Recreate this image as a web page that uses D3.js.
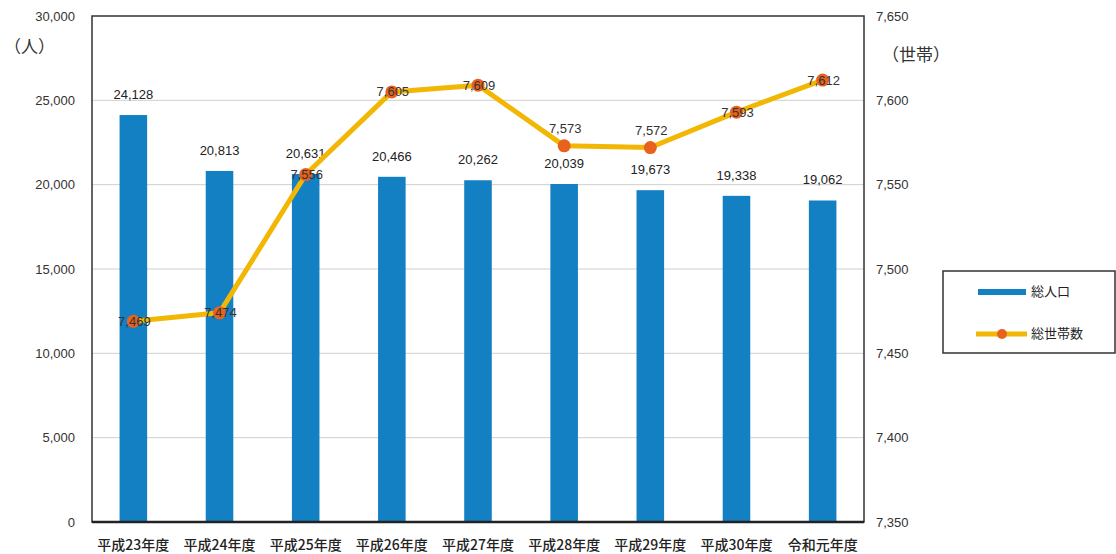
<!DOCTYPE html>
<html lang="ja">
<head>
<meta charset="utf-8">
<script src="https://cdn.jsdelivr.net/npm/d3@7/dist/d3.min.js"></script>
<style>
  html, body { margin: 0; padding: 0; background: #fff; }
  svg { display: block; font-family: "Liberation Sans", "Noto Sans CJK JP", sans-serif; }
</style>
</head>
<body>
<svg id="chart" width="1116" height="554"></svg>
<script>
// Fiscal years
const categories = ["平成23年度", "平成24年度", "平成25年度", "平成26年度", "平成27年度",
                    "平成28年度", "平成29年度", "平成30年度", "令和元年度"];
// Total population (persons)
const population = [24128, 20813, 20631, 20466, 20262, 20039, 19673, 19338, 19062];
// Total households
const households = [7469, 7474, 7556, 7605, 7609, 7573, 7572, 7593, 7612];
// Axis ticks
const leftTicks = [0, 5000, 10000, 15000, 20000, 25000, 30000];
const rightTicks = [7350, 7400, 7450, 7500, 7550, 7600, 7650];

// Household labels that sit above their marker instead of on it
const raisedLabels = new Set(["平成28年度", "平成29年度"]);

const svg = d3.select("#chart");
const plot = { left: 92, right: 864, top: 16, bottom: 522 };

const x = d3.scaleBand().domain(categories).range([plot.left, plot.right]).paddingInner(0.68).paddingOuter(0.32);
const yL = d3.scaleLinear().domain([0, 30000]).range([plot.bottom, plot.top]);
const yR = d3.scaleLinear().domain([7350, 7650]).range([plot.bottom, plot.top]);
const fmt = d3.format(",");

// Gridlines
svg.append("g").selectAll("line").data(leftTicks.filter(d => d > 0 && d < 30000)).join("line")
  .attr("x1", plot.left).attr("x2", plot.right)
  .attr("y1", d => yL(d)).attr("y2", d => yL(d))
  .attr("stroke", "#cfcfcf").attr("stroke-width", 1);

// Left axis
const leftAxis = svg.append("g").attr("transform", `translate(${plot.left},0)`)
  .call(d3.axisLeft(yL).tickValues(leftTicks).tickFormat(fmt).tickSize(0).tickPadding(17));
leftAxis.select(".domain").remove();
leftAxis.selectAll("text").attr("font-size", 13).attr("fill", "#333");

// Right axis
const rightAxis = svg.append("g").attr("transform", `translate(${plot.right},0)`)
  .call(d3.axisRight(yR).tickValues(rightTicks).tickFormat(fmt).tickSize(0).tickPadding(12));
rightAxis.select(".domain").remove();
rightAxis.selectAll("text").attr("font-size", 13).attr("fill", "#333");

// Bars
svg.append("g").selectAll("rect").data(population).join("rect")
  .attr("x", (d, i) => x(categories[i]))
  .attr("width", x.bandwidth())
  .attr("y", d => yL(d))
  .attr("height", d => yL(0) - yL(d))
  .attr("fill", "#1480c4");

// Bar labels
svg.append("g").selectAll("text").data(population).join("text")
  .attr("x", (d, i) => x(categories[i]) + x.bandwidth() / 2)
  .attr("y", d => yL(d) - 16)
  .attr("text-anchor", "middle").attr("font-size", 13).attr("fill", "#222")
  .text(d => fmt(d));

// Plot frame
svg.append("rect")
  .attr("x", plot.left).attr("y", plot.top)
  .attr("width", plot.right - plot.left).attr("height", plot.bottom - plot.top)
  .attr("fill", "none").attr("stroke", "#333").attr("stroke-width", 1.5);
svg.append("line").attr("x1", plot.left).attr("x2", plot.right)
  .attr("y1", plot.bottom).attr("y2", plot.bottom)
  .attr("stroke", "#222").attr("stroke-width", 2.5);

// Household line
const cx = i => x(categories[i]) + x.bandwidth() / 2;
const line = d3.line().x((d, i) => cx(i)).y(d => yR(d));
svg.append("path").datum(households)
  .attr("d", line).attr("fill", "none")
  .attr("stroke", "#f2b705").attr("stroke-width", 5).attr("stroke-linejoin", "round");
svg.append("g").selectAll("circle").data(households).join("circle")
  .attr("cx", (d, i) => cx(i)).attr("cy", d => yR(d)).attr("r", 6.5)
  .attr("fill", "#e8621e");
svg.append("g").selectAll("text").data(households).join("text")
  .attr("x", (d, i) => cx(i) + 1)
  .attr("y", (d, i) => yR(d) + (raisedLabels.has(categories[i]) ? -16 : 1))
  .attr("dominant-baseline", "middle")
  .attr("text-anchor", "middle").attr("font-size", 13).attr("fill", "#333")
  .text(d => fmt(d));

// X labels
svg.append("g").selectAll("text").data(categories).join("text")
  .attr("x", d => x(d) + x.bandwidth() / 2).attr("y", 550)
  .attr("text-anchor", "middle").attr("font-size", 14).attr("fill", "#222")
  .attr("font-family", "Noto Sans CJK JP").attr("font-weight", 500)
  .text(d => d);

// Unit labels
svg.append("text").attr("x", 4).attr("y", 53).attr("font-size", 17).attr("fill", "#333")
  .attr("font-family", "Noto Sans CJK JP").text("（人）");
svg.append("text").attr("x", 882).attr("y", 61).attr("font-size", 17).attr("fill", "#333")
  .attr("font-family", "Noto Sans CJK JP").text("（世帯）");

// Legend
const lg = svg.append("g");
lg.append("rect").attr("x", 943).attr("y", 271).attr("width", 172).attr("height", 82)
  .attr("fill", "#fff").attr("stroke", "#333").attr("stroke-width", 1.5);
lg.append("line").attr("x1", 978).attr("x2", 1026).attr("y1", 292).attr("y2", 292)
  .attr("stroke", "#1480c4").attr("stroke-width", 6);
lg.append("text").attr("x", 1031).attr("y", 292).attr("dominant-baseline", "middle")
  .attr("font-size", 13).attr("fill", "#222").attr("font-family", "Noto Sans CJK JP").text("総人口");
lg.append("line").attr("x1", 976).attr("x2", 1027).attr("y1", 334).attr("y2", 334)
  .attr("stroke", "#f2b705").attr("stroke-width", 5);
lg.append("circle").attr("cx", 1002).attr("cy", 334).attr("r", 5).attr("fill", "#e8621e");
lg.append("text").attr("x", 1031).attr("y", 334).attr("dominant-baseline", "middle")
  .attr("font-size", 13).attr("fill", "#222").attr("font-family", "Noto Sans CJK JP").text("総世帯数");
</script>
</body>
</html>
